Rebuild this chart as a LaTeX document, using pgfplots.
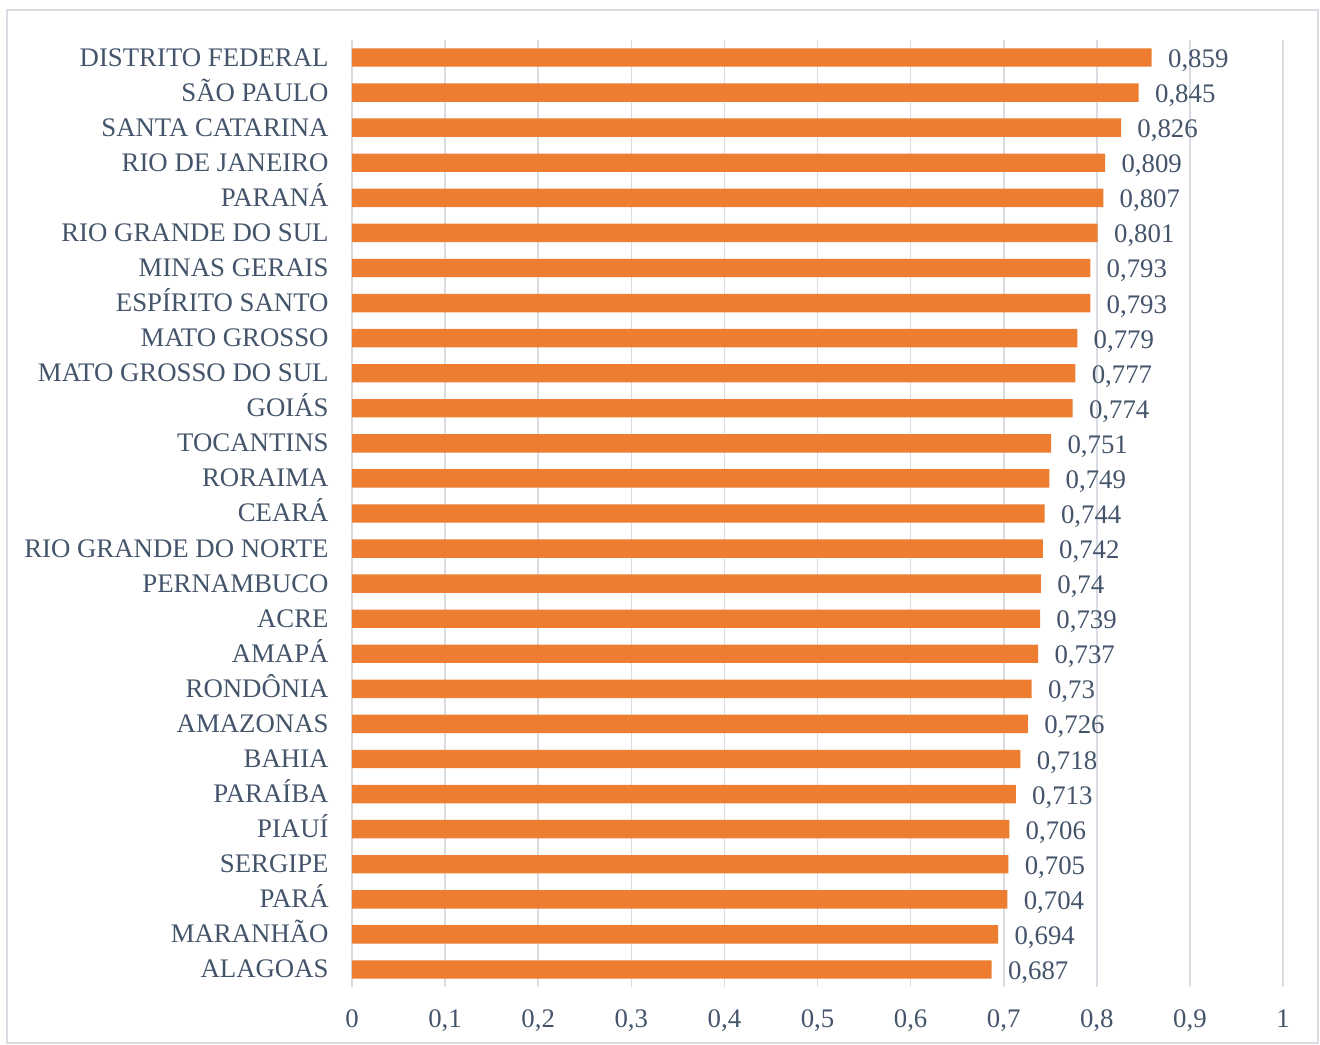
\documentclass[border=0pt]{standalone}
\usepackage{pgfplots}
\pgfplotsset{compat=1.18}
\usepackage{fontspec}
\setmainfont{Liberation Serif}
\definecolor{txt}{HTML}{44546A}
\definecolor{gridc}{HTML}{D9DDE3}
\definecolor{barc}{HTML}{ED7D31}
\begin{document}
\begin{tikzpicture}
\begin{axis}[
    scale only axis,
    width=465.5pt,
    height=473.5pt,
    xbar,
    bar width=9.2pt,
    xmin=0, xmax=1,
    ymin=-0.5, ymax=26.5,
    enlarge y limits=false,
    xtick={0,0.1,...,1},
    ytick={0,...,26},
    yticklabels={ALAGOAS, MARANHÃO, PARÁ, SERGIPE, PIAUÍ, PARAÍBA, BAHIA, AMAZONAS, RONDÔNIA, AMAPÁ, ACRE, PERNAMBUCO, RIO GRANDE DO NORTE, CEARÁ, RORAIMA, TOCANTINS, GOIÁS, MATO GROSSO DO SUL, MATO GROSSO, ESPÍRITO SANTO, MINAS GERAIS, RIO GRANDE DO SUL, PARANÁ, RIO DE JANEIRO, SANTA CATARINA, SÃO PAULO, DISTRITO FEDERAL},
    major tick length=0pt,
    xmajorgrids,
    grid style={gridc, line width=0.8pt},
    axis x line*=bottom,
    axis y line*=left,
    x axis line style={draw=none},
    y axis line style={draw=gridc, line width=0.8pt},
    tick label style={font=\fontsize{13.4}{16}\selectfont, text=txt},
    /pgf/number format/assume math mode=true,
    /pgf/number format/use comma,
    xticklabel style={yshift=-8pt},
    yticklabel style={inner sep=0pt, anchor=base east, xshift=-11.5pt, yshift=-4.25pt},
    nodes near coords={\pgfmathprintnumber[fixed,precision=3,use comma,assume math mode=true]{\pgfplotspointmeta}},
    nodes near coords style={font=\fontsize{13.4}{16}\selectfont, text=txt, inner sep=0pt, anchor=base west, xshift=8pt, yshift=-5pt},
    point meta=x,
    clip=false,
]
\addplot+[draw=none, fill=barc] coordinates {
    (0.687,0) (0.694,1) (0.704,2) (0.705,3) (0.706,4) (0.713,5) (0.718,6)
    (0.726,7) (0.73,8) (0.737,9) (0.739,10) (0.74,11) (0.742,12) (0.744,13)
    (0.749,14) (0.751,15) (0.774,16) (0.777,17) (0.779,18) (0.793,19)
    (0.793,20) (0.801,21) (0.807,22) (0.809,23) (0.826,24) (0.845,25) (0.859,26)
};
\coordinate (sw) at (rel axis cs:0,0);
\coordinate (ne) at (rel axis cs:1,1);
\end{axis}
\draw[gridc, line width=0.8pt] ([xshift=-172.5pt,yshift=-28pt]sw) rectangle ([xshift=17.5pt,yshift=15pt]ne);
\path[use as bounding box] ([xshift=-176pt,yshift=-28.5pt]sw) rectangle ([xshift=18.5pt,yshift=20pt]ne);
\end{tikzpicture}
\end{document}
